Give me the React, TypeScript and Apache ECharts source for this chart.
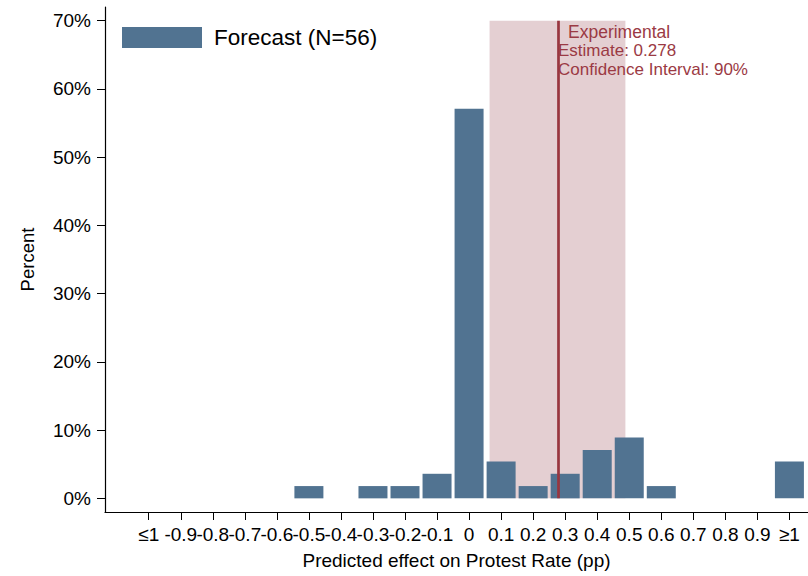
import React, { useEffect, useRef } from "react";
import * as echarts from "echarts";

const xPositions = [-1, -0.9, -0.8, -0.7, -0.6, -0.5, -0.4, -0.3, -0.2, -0.1, 0, 0.1, 0.2, 0.3, 0.4, 0.5, 0.6, 0.7, 0.8, 0.9, 1];
const xLabels = ["≤1", "-0.9", "-0.8", "-0.7", "-0.6", "-0.5", "-0.4", "-0.3", "-0.2", "-0.1", "0", "0.1", "0.2", "0.3", "0.4", "0.5", "0.6", "0.7", "0.8", "0.9", "≥1"];
const percents = [0, 0, 0, 0, 0, 1.8, 0, 1.8, 1.8, 3.6, 57.1, 5.4, 1.8, 3.6, 7.1, 8.9, 1.8, 0, 0, 0, 5.4];
const yTicks = [0, 10, 20, 30, 40, 50, 60, 70];
const seriesName = "Forecast (N=56)";
const estimate = 0.278;
const ciLow = 0.064;
const ciHigh = 0.488;
const annotationTitle = "Experimental";
const annotationLines = ["Estimate: 0.278", "Confidence Interval: 90%"];

const FONT = "'Liberation Sans', Arial, sans-serif";
const BAR = "#517391";
const BAND = "#e4cfd2";
const RED = "#98363f";
const RED_TEXT = "#9b3a44";

export default function App() {
  const ref = useRef<HTMLDivElement>(null);
  useEffect(() => {
    if (!ref.current) return;
    const chart = echarts.init(ref.current, null, { renderer: "svg" });
    const labelFor = (v: number) => {
      const i = xPositions.findIndex((p) => Math.abs(p - v) < 1e-6);
      return i >= 0 ? xLabels[i] : "";
    };
    chart.setOption({
      animation: false,
      backgroundColor: "#ffffff",
      textStyle: { fontFamily: FONT },
      grid: { left: 105, right: 0, top: 7, bottom: 64, containLabel: false, outerBoundsMode: "none" },
      legend: {
        left: 122,
        top: 26,
        padding: 0,
        itemWidth: 80,
        itemHeight: 21,
        icon: "rect",
        data: [seriesName],
        textStyle: { fontSize: 22.5, color: "#000", fontFamily: FONT, padding: [0, 0, 0, 7] },
      },
      xAxis: {
        type: "value",
        min: -1.1365,
        max: 1.058,
        splitLine: { show: false },
        axisLine: { show: true, onZero: false, lineStyle: { color: "#000", width: 1.2 } },
        axisTick: { show: true, customValues: xPositions, length: 8, lineStyle: { color: "#000", width: 1 } },
        axisLabel: {
          customValues: xPositions,
          formatter: (v: number) => labelFor(v),
          fontSize: 19,
          color: "#000",
          margin: 13,
          fontFamily: FONT,
        },
        name: "Predicted effect on Protest Rate (pp)",
        nameLocation: "middle",
        nameGap: 39,
        nameTextStyle: { fontSize: 19, color: "#000", fontFamily: FONT },
      },
      yAxis: {
        type: "value",
        min: -2,
        max: 72,
        splitLine: { show: false },
        axisLine: { show: true, onZero: false, lineStyle: { color: "#000", width: 1.2 } },
        axisTick: { show: true, customValues: yTicks, length: 8, lineStyle: { color: "#000", width: 1 } },
        axisLabel: {
          customValues: yTicks,
          formatter: (v: number) => `${v}%`,
          fontSize: 19,
          color: "#000",
          margin: 14,
          fontFamily: FONT,
        },
        name: "Percent",
        nameLocation: "middle",
        nameGap: 68,
        nameTextStyle: { fontSize: 18.5, color: "#000", fontFamily: FONT },
      },
      series: [
        {
          type: "bar",
          name: seriesName,
          data: xPositions.map((x, i) => [x, percents[i]]),
          barWidth: 29,
          itemStyle: { color: BAR },
          z: 2,
          markArea: {
            silent: true,
            z: 1,
            itemStyle: { color: BAND },
            data: [[{ xAxis: ciLow, yAxis: 0 }, { xAxis: ciHigh, yAxis: 70 }]],
          },
          markLine: {
            silent: true,
            z: 5,
            symbol: ["none", "none"],
            label: { show: false },
            lineStyle: { color: RED, width: 2.7, type: "solid" },
            data: [[{ coord: [estimate, 0] }, { coord: [estimate, 70] }]],
          },
        },
      ],
      graphic: [
        {
          type: "text",
          left: 568,
          top: 23,
          z: 100,
          style: { text: annotationTitle, fill: RED_TEXT, font: `17.5px ${FONT}` },
        },
        {
          type: "text",
          left: 558,
          top: 42,
          z: 100,
          style: { text: annotationLines[0], fill: RED_TEXT, font: `17px ${FONT}` },
        },
        {
          type: "text",
          left: 558,
          top: 61,
          z: 100,
          style: { text: annotationLines[1], fill: RED_TEXT, font: `17px ${FONT}` },
        },
      ],
    });
    return () => chart.dispose();
  }, []);
  return (
    <div
      ref={ref}
      style={{ position: "absolute", left: 0, top: 0, width: 808, height: 576, background: "#fff" }}
    />
  );
}
